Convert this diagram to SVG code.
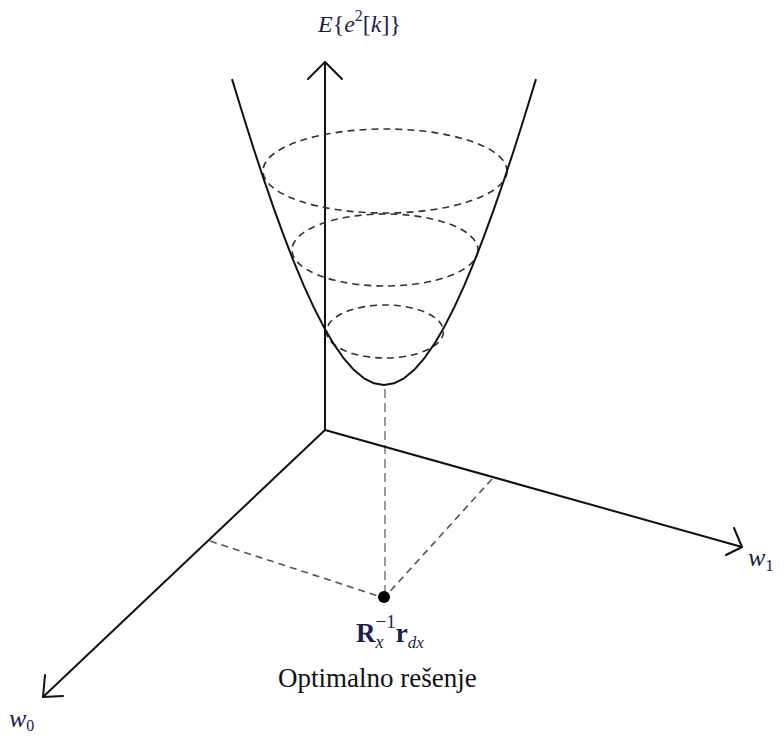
<svg xmlns="http://www.w3.org/2000/svg" width="784" height="738" viewBox="0 0 784 738">
<style>
.ax{fill:none;stroke:#111;stroke-width:2;stroke-linecap:round;stroke-linejoin:round}
.curve{fill:none;stroke:#111;stroke-width:2;stroke-linejoin:round}
.ell{fill:none;stroke:#333;stroke-width:1.6;stroke-dasharray:7 5}
.dsh{fill:none;stroke:#555;stroke-width:1.6;stroke-dasharray:7 5}
.dshv{fill:none;stroke:#999;stroke-width:2;stroke-dasharray:9 5}
.math{font-family:"Liberation Serif","Times New Roman",serif;fill:#1e1e4a}
.lbl{font-family:"Liberation Serif","Times New Roman",serif;fill:#111}
</style>
<rect width="784" height="738" fill="#fff"/>
<g id="connectors">
<path class="dshv" d="M385,389 L385,595"/>
<path class="dsh" d="M210,541 L384,598"/>
<path class="dsh" stroke="#777" d="M492,479 L384,598"/>
</g>
<g id="axes">
<path class="ax" d="M325,430 L325,62"/>
<path class="ax" d="M308,79 L325,62 L342,79"/>
<path class="ax" d="M325,430 L742,547"/>
<path class="ax" d="M734,528 L742,547 L726,555"/>
<path class="ax" d="M325,430 L43,697"/>
<path class="ax" d="M45,675 L43,697 L63,696"/>
</g>
<g id="surface">
<ellipse class="ell" cx="385" cy="171" rx="122" ry="42"/>
<ellipse class="ell" cx="385" cy="250" rx="93" ry="36"/>
<ellipse class="ell" cx="385" cy="331.5" rx="58.5" ry="26.5"/>
<path class="curve" d="M232,79.1 L244,118.3 L254,149.7 L264,180 L274,208.9 L284,236.4 L294,262.2 L304,286.1 L314,307.9 L324,327.4 L334,344.4 L344,358.7 L354,370.1 L364,378.3 L374,383.3 L384,385 L394,383.3 L404,378.3 L414,370.1 L424,358.7 L434,344.4 L444,327.4 L454,307.9 L464,286.1 L474,262.2 L484,236.4 L494,208.9 L504,180 L514,149.7 L524,118.3 L536,79.1"/>
</g>
<g id="optimum">
<circle cx="384" cy="597" r="6" fill="#000"/>
<text class="math" x="356" y="642" font-size="27"><tspan font-weight="bold">R</tspan><tspan font-style="italic" font-size="18" dy="6">x</tspan><tspan dx="-8" dy="-20" font-size="19">−1</tspan><tspan dy="14" font-weight="bold">r</tspan><tspan font-style="italic" font-size="17" dy="6">dx</tspan></text>
<text class="lbl" x="278" y="687" font-size="27">Optimalno rešenje</text>
</g>
<g id="labels">
<text class="math" x="318" y="32" font-size="24"><tspan font-style="italic">E</tspan>{<tspan font-style="italic">e</tspan><tspan font-size="16" dy="-11">2</tspan><tspan dy="11">[</tspan><tspan font-style="italic">k</tspan>]}</text>
<text class="math" x="9" y="727" font-size="26"><tspan font-style="italic">w</tspan><tspan font-size="16" dy="4">0</tspan></text>
<text class="math" x="748" y="566" font-size="26"><tspan font-style="italic">w</tspan><tspan font-size="17" dy="5">1</tspan></text>
</g>
</svg>
